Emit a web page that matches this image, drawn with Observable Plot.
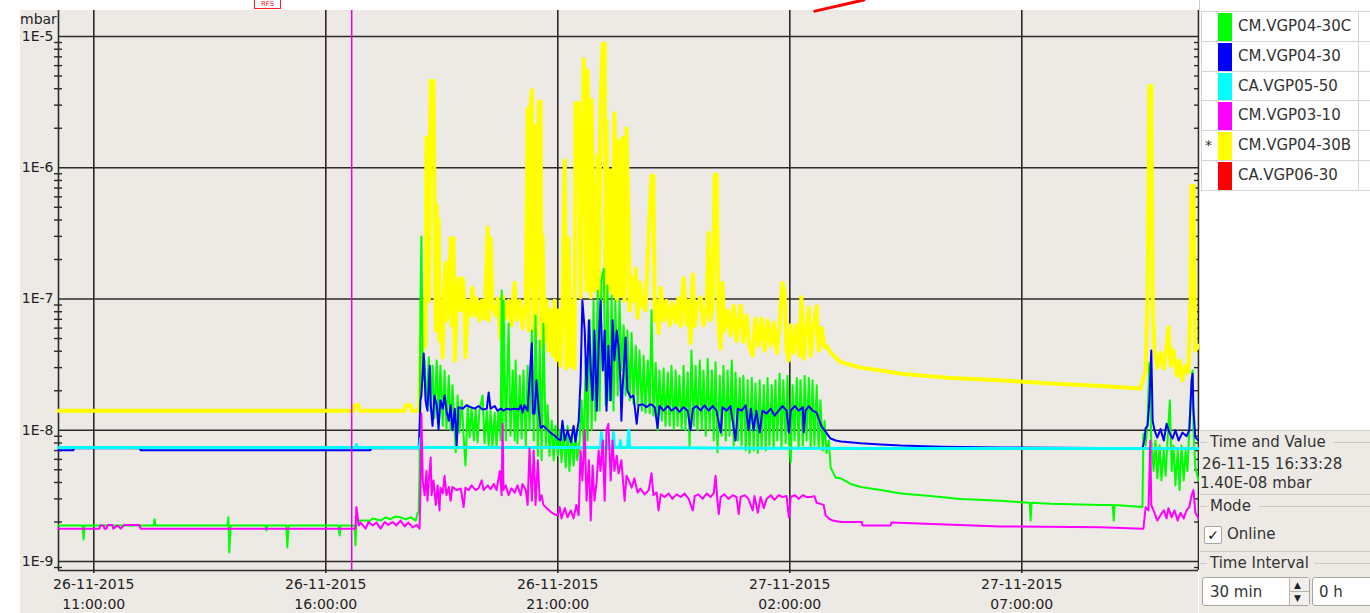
<!DOCTYPE html>
<html><head><meta charset="utf-8">
<script src="https://cdn.jsdelivr.net/npm/d3@7"></script>
<script src="https://cdn.jsdelivr.net/npm/@observablehq/plot@0.6"></script>
<style>
html,body{margin:0;padding:0;background:#fff;width:1370px;height:613px;overflow:hidden;font-family:"DejaVu Sans",sans-serif;color:#2b2b2b;}
#bg{position:absolute;left:20px;top:10px;width:1178px;height:603px;background:#edeae6;}
#chart{position:absolute;left:0;top:0;}
#unit{position:absolute;left:20px;top:11px;font-size:14px;line-height:17px;color:#222;}
#redbox{position:absolute;left:254px;top:0px;width:25px;height:8px;border:1px solid #ff2020;border-top:none;color:#ff2020;font-size:7px;line-height:8px;text-align:center;overflow:hidden;}
#panel{position:absolute;left:1199px;top:0;width:171px;height:613px;background:#edeae6;}
#legend{position:absolute;left:0;top:0;width:171px;height:430px;background:#fff;border-bottom:1px solid #cfcbc5;border-left:1px solid #cfcbc5;}
.row{position:absolute;left:1px;width:170px;border-top:1px solid #d8d5d0;}
.sw{position:absolute;left:17px;width:14px;}
.lab{position:absolute;left:37px;font-size:15px;color:#333;white-space:nowrap;}
.star{position:absolute;left:4px;font-size:14px;color:#333;}
.vl{position:absolute;top:11px;width:1px;height:179px;background:#d8d5d0;}
.txt{position:absolute;font-size:15px;line-height:18px;color:#333;white-space:nowrap;}
.hl{position:absolute;height:1px;background:#cdc9c2;}
.box{position:absolute;background:#fff;border:1px solid #a9a59e;border-radius:3px;box-sizing:border-box;}
</style></head>
<body>
<div id="bg"></div>
<div id="unit">mbar</div>
<div id="redbox">RFS</div>
<div id="chart"></div>
<div id="panel">
  <div id="legend"></div>
</div>
<script>
// ---------- data (time in hours since 26-11-2015 00:00, values in mbar) ----------
const seriesNames = ["CM.VGP04-30C", "CM.VGP04-30", "CA.VGP05-50", "CM.VGP03-10", "CM.VGP04-30B", "CA.VGP06-30"];
const seriesColors = ["#00ff00", "#0000ff", "#00ffff", "#ff00ff", "#ffff00", "#ff0000"];
const selectedSeries = "CM.VGP04-30B";
const xTickHours = [11, 16, 21, 26, 31];
const yTicks = [1e-9, 1e-8, 1e-7, 1e-6, 1e-5];
const yTickLabels = ["1E-9", "1E-8", "1E-7", "1E-6", "1E-5"];
const timeDomainHours = [10.239, 34.808];
const valueDomain = [8.54e-10, 1.578e-5];
const cursorHours = 16 + 33/60 + 28/3600;
const cursorText = ["26-11-15 16:33:28", "1.40E-08 mbar"];

const vgp0430b = [[10.24,1.41e-8],[16.60,1.41e-8],[16.62,1.55e-8],[16.71,1.55e-8],[16.73,1.41e-8],[17.70,1.41e-8],[17.72,1.55e-8],[17.83,1.55e-8],[17.85,1.41e-8],[17.98,1.41e-8],
[18.00,1.41e-8],[18.02,1.84e-8],[18.04,3.4e-8],[18.06,9.7e-8],[18.09,4.05e-8],[18.11,9.7e-8],[18.15,4.4e-8],[18.17,1.7e-6],[18.22,9.7e-8],[18.26,4.6e-6],[18.32,4.6e-6],[18.37,5.75e-8],[18.39,5.2e-7],[18.41,9.7e-8],[18.43,4.0e-7],[18.45,4.8e-8],[18.47,9.7e-8],[18.52,3.6e-8],[18.54,1.06e-7],[18.58,1.9e-7],[18.60,6.9e-8],[18.65,9.7e-8],[18.69,2.9e-7],[18.71,6.3e-8],[18.75,2.9e-7],[18.78,3.4e-8],[18.82,8.9e-8],[18.86,1.44e-7],[18.91,8.2e-8],[18.95,1.44e-7],[18.99,9.7e-8],[19.01,3.6e-8],[19.06,9.7e-8],[19.10,7.5e-8],[19.14,1.01e-7],[19.16,1.22e-7],[19.21,7.5e-8],[19.25,1.01e-7],[19.31,6.9e-8],[19.36,9.7e-8],[19.42,7.1e-8],[19.49,3.5e-7],[19.51,6.9e-8],[19.55,2.9e-7],[19.59,8.9e-8],[19.66,7.5e-8],[19.70,1.01e-7],[19.77,5.0e-8],[19.81,1.06e-7],[19.88,7.1e-8],[19.94,9.7e-8],[20.00,6.3e-8],[20.03,9.7e-8],[20.07,1.33e-7],[20.11,6.9e-8],[20.18,9.7e-8],[20.24,6.0e-8],[20.31,9.7e-8],[20.35,2.8e-6],[20.37,5.75e-8],[20.41,2.8e-6],[20.44,3.9e-6],[20.48,5.75e-8],[20.50,2.1e-6],[20.54,5.3e-8],[20.59,3.2e-6],[20.63,3.2e-6],[20.65,4.4e-8],[20.67,3.0e-7],[20.72,4.8e-8],[20.76,9.7e-8],[20.80,4.05e-8],[20.84,8.2e-8],[20.89,3.7e-8],[20.93,9.7e-8],[20.97,3.4e-8],[21.02,8.2e-8],[21.06,3.1e-8],[21.10,8.2e-8],[21.15,1.14e-6],[21.19,2.95e-8],[21.23,2.9e-7],[21.28,3.1e-8],[21.32,9.7e-8],[21.36,2.95e-8],[21.38,3.1e-6],[21.45,3.1e-6],[21.49,1.03e-7],[21.56,6.7e-6],[21.62,1.16e-7],[21.64,5.5e-6],[21.71,1.03e-7],[21.73,3.3e-6],[21.79,1.16e-7],[21.86,1.24e-6],[21.88,1.06e-7],[21.92,2.9e-6],[21.97,8.8e-6],[22.01,8.8e-6],[22.03,9.7e-8],[22.05,2.3e-6],[22.09,1.16e-7],[22.14,9.5e-7],[22.18,1.06e-7],[22.22,2.6e-6],[22.27,9.7e-8],[22.31,1.6e-6],[22.35,1.06e-7],[22.40,1.7e-6],[22.44,9.7e-8],[22.48,2.0e-6],[22.53,3.5e-7],[22.55,8.2e-8],[22.59,1.46e-7],[22.63,9.7e-8],[22.68,1.7e-7],[22.72,7.2e-8],[22.78,1.33e-7],[22.83,8.9e-8],[22.89,8.2e-8],[22.98,4.5e-7],[23.02,8.7e-7],[23.06,8.7e-7],[23.09,6.9e-8],[23.13,9.7e-8],[23.17,5.5e-8],[23.22,1.22e-7],[23.28,6.9e-8],[23.34,9.7e-8],[23.41,6.3e-8],[23.47,9.4e-8],[23.54,6.6e-8],[23.60,1.01e-7],[23.65,6.2e-8],[23.71,1.44e-7],[23.78,6.4e-8],[23.82,9.7e-8],[23.86,4.6e-8],[23.91,1.54e-7],[23.95,6.2e-8],[24.01,9.1e-8],[24.08,1.03e-7],[24.14,6.3e-8],[24.21,8.6e-8],[24.25,3.2e-7],[24.29,6.9e-8],[24.34,8.9e-8],[24.38,8.9e-7],[24.42,8.9e-7],[24.47,5.75e-8],[24.51,4.2e-8],[24.55,1.33e-7],[24.59,5.75e-8],[24.66,8.2e-8],[24.72,5.3e-8],[24.79,8.9e-8],[24.85,4.8e-8],[24.94,8.9e-8],[25.00,4.7e-8],[25.07,7.5e-8],[25.13,4.4e-8],[25.20,3.7e-8],[25.26,7.1e-8],[25.33,4.4e-8],[25.39,7.1e-8],[25.46,4.05e-8],[25.52,6.9e-8],[25.59,4.4e-8],[25.65,6.6e-8],[25.72,3.9e-8],[25.78,6.3e-8],[25.84,1.33e-7],[25.89,1.12e-7],[25.93,4.05e-8],[25.98,3.4e-8],[26.02,6.3e-8],[26.08,3.9e-8],[26.15,6.3e-8],[26.21,3.7e-8],[26.25,1.03e-7],[26.30,3.5e-8],[26.36,6.0e-8],[26.41,8.6e-8],[26.45,3.7e-8],[26.51,6.0e-8],[26.58,8.8e-8],[26.62,4.05e-8],[26.69,6.0e-8],[26.75,4.3e-8],[26.79,4.4e-8],[26.88,3.9e-8],[27.10,3.3e-8],[27.53,3.0e-8],[27.96,2.85e-8],[28.39,2.7e-8],[29.47,2.5e-8],[30.54,2.4e-8],[31.62,2.27e-8],[32.70,2.17e-8],[33.56,2.08e-8],[33.60,2.4e-8],[33.67,2.75e-8],[33.71,9.7e-8],[33.75,4.2e-6],[33.79,4.2e-6],[33.82,9.7e-8],[33.86,4.05e-8],[33.92,3.0e-8],[33.99,3.9e-8],[34.06,2.95e-8],[34.12,4.4e-8],[34.16,6.1e-8],[34.21,3.1e-8],[34.27,4.05e-8],[34.34,2.6e-8],[34.40,3.4e-8],[34.46,2.4e-8],[34.53,3.1e-8],[34.59,2.75e-8],[34.64,9.7e-8],[34.66,7.3e-7],[34.70,7.3e-7],[34.74,4.05e-8],[34.81,4.4e-8]];

const vgp0430c = [[10.24,1.88e-9],[10.76,1.88e-9],[10.78,1.47e-9],[10.80,1.88e-9],[12.29,1.88e-9],[12.31,2.1e-9],[12.33,1.88e-9],[13.88,1.88e-9],[13.90,2.17e-9],[13.92,1.17e-9],[13.95,1.88e-9],[14.70,1.88e-9],[14.72,1.72e-9],[14.74,1.88e-9],[15.15,1.88e-9],[15.17,1.28e-9],[15.20,1.88e-9],[16.27,1.88e-9],[16.30,1.58e-9],[16.32,1.88e-9],[16.62,1.88e-9],[16.64,1.33e-9],[16.66,2.05e-9],[16.96,2.05e-9],[17.01,2.13e-9],[17.18,2.05e-9],[17.29,2.17e-9],[17.39,2.1e-9],[17.50,2.2e-9],[17.61,2.17e-9],[17.72,2.1e-9],[17.83,2.17e-9],[17.94,2.05e-9],[17.98,2.35e-9],[18.00,2.35e-9],[18.02,4.9e-9],[18.04,9.7e-8],[18.06,3.0e-7],[18.09,2.4e-8],
[18.13,3.4e-8],[18.17,1.5e-8],[18.22,3.6e-8],[18.26,1.41e-8],[18.30,3.1e-8],[18.34,1.23e-8],[18.39,3.4e-8],[18.43,1.18e-8],[18.47,3.1e-8],[18.52,1.08e-8],[18.56,2.85e-8],[18.60,1.02e-8],[18.65,2.6e-8],[18.69,1.0e-8],[18.73,2.2e-8],[18.80,6.8e-9],[18.84,1.84e-8],[18.88,9.6e-9],[18.93,1.69e-8],[18.97,9.1e-9],[19.01,5.4e-9],[19.06,1.55e-8],[19.10,8.8e-9],[19.14,1.5e-8],[19.19,8.35e-9],[19.23,1.46e-8],[19.27,8.1e-9],[19.31,1.41e-8],[19.38,1.84e-8],[19.42,7.95e-9],[19.47,1.41e-8],[19.51,7.65e-9],[19.55,1.41e-8],[19.59,7.5e-9],[19.64,1.36e-8],[19.68,7.4e-9],[19.72,1.41e-8],[19.77,8.35e-9],[19.79,1.16e-7],[19.81,1.0e-8],[19.83,9.7e-8],[19.88,8.35e-9],[19.92,3.4e-8],[19.94,6.5e-8],[19.98,9.1e-9],[20.03,2.85e-8],[20.07,8.35e-9],[20.09,3.4e-8],[20.13,7.95e-9],[20.18,2.6e-8],[20.22,8.65e-9],[20.26,2.85e-8],[20.31,7.65e-9],[20.35,3.1e-8],[20.39,1.0e-8],[20.44,5.75e-8],[20.48,8.35e-9],[20.52,7.5e-8],[20.57,6.4e-9],[20.61,4.8e-8],[20.65,5.9e-9],[20.69,6.5e-8],[20.74,7.65e-9],[20.78,1.55e-8],[20.82,6.4e-9],[20.87,1.18e-8],[20.91,5.9e-9],[20.95,1.08e-8],[21.00,6.4e-9],[21.04,1.0e-8],[21.08,5.7e-9],[21.12,1.0e-8],[21.17,5.2e-9],[21.21,1.08e-8],[21.25,4.9e-9],[21.30,9.1e-9],[21.34,5.4e-9],[21.38,1.0e-8],[21.42,5.9e-9],[21.47,8.35e-9],[21.51,1.69e-8],[21.56,7.0e-9],[21.60,3.4e-8],[21.64,8.35e-9],[21.69,6.9e-8],[21.73,1.0e-8],[21.77,9.7e-8],[21.81,1.18e-8],[21.86,1.16e-7],[21.90,1.41e-8],[21.94,1.38e-7],[21.99,1.7e-7],[22.03,1.55e-8],[22.07,1.27e-7],[22.11,1.69e-8],[22.16,1.06e-7],[22.20,1.41e-8],[22.24,9.7e-8],[22.29,1.84e-8],[22.33,9.7e-8],[22.37,2.85e-8],[22.42,6.3e-8],[22.46,1.84e-8],[22.50,5.75e-8],[22.55,1.69e-8],[22.59,5.5e-8],[22.63,1.6e-8],[22.68,4.4e-8],[22.72,1.55e-8],[22.76,4.05e-8],[22.81,1.41e-8],[22.85,3.7e-8],[22.89,1.36e-8],[22.94,3.4e-8],[22.98,1.34e-8],[23.02,8.2e-8],[23.06,1.29e-8],[23.11,3.25e-8],[23.15,1.0e-8],[23.19,2.85e-8],[23.24,1.18e-8],[23.28,2.95e-8],[23.32,1.08e-8],[23.37,2.75e-8],[23.41,1.08e-8],[23.45,3.1e-8],[23.50,1.02e-8],[23.54,2.85e-8],[23.58,1.08e-8],[23.62,2.6e-8],[23.67,1.02e-8],[23.71,3.1e-8],[23.75,1.0e-8],[23.80,2.75e-8],[23.84,7.4e-9],[23.88,4.05e-8],[23.93,1.08e-8],[23.97,3.1e-8],[24.01,1.0e-8],[24.06,3.4e-8],[24.10,1.02e-8],[24.14,2.85e-8],[24.19,9.1e-9],[24.23,3.5e-8],[24.27,1.0e-8],[24.32,2.85e-8],[24.36,8.35e-9],[24.40,3.3e-8],[24.44,6.8e-9],[24.49,2.6e-8],[24.53,9.1e-9],[24.57,3.1e-8],[24.62,8.35e-9],[24.66,2.85e-8],[24.70,9.1e-9],[24.75,3.4e-8],[24.79,7.65e-9],[24.83,2.75e-8],[24.88,8.35e-9],[24.92,2.5e-8],[24.96,7.65e-9],[25.00,2.6e-8],[25.05,7.0e-9],[25.09,2.4e-8],[25.13,6.7e-9],[25.18,2.5e-8],[25.22,7.0e-9],[25.26,2.27e-8],[25.31,6.7e-9],[25.35,2.4e-8],[25.39,7.25e-9],[25.44,2.2e-8],[25.48,7.0e-9],[25.52,2.5e-8],[25.56,7.65e-9],[25.61,2.2e-8],[25.65,7.25e-9],[25.69,2.4e-8],[25.73,8.35e-9],[25.78,2.7e-8],[25.82,7.4e-9],[25.86,2.4e-8],[25.91,7.95e-9],[25.95,2.6e-8],[25.99,7.65e-9],[26.02,5.7e-9],[26.06,2.2e-8],[26.10,8.35e-9],[26.15,2.5e-8],[26.19,7.25e-9],[26.23,2.4e-8],[26.28,7.65e-9],[26.32,2.6e-8],[26.36,8.35e-9],[26.41,2.5e-8],[26.45,7.4e-9],[26.49,2.4e-8],[26.53,7.65e-9],[26.58,2.2e-8],[26.62,7.25e-9],[26.66,1.69e-8],[26.71,7.0e-9],[26.75,1.18e-8],[26.79,6.7e-9],[26.84,8.35e-9],[26.88,5.2e-9],[26.99,4.35e-9],[27.10,4.3e-9],[27.31,3.9e-9],[27.53,3.7e-9],[27.96,3.5e-9],[28.39,3.3e-9],[29.03,3.15e-9],[29.68,3.0e-9],[30.54,2.9e-9],[31.17,2.8e-9],[31.19,2.05e-9],[31.21,2.8e-9],[31.62,2.75e-9],[32.70,2.7e-9],[32.96,2.7e-9],[32.98,2.05e-9],[33.00,2.7e-9],[33.60,2.6e-9],[33.62,9.4e-9],[33.67,7.65e-9],[33.71,1.18e-8],[33.75,3.25e-8],[33.79,8.35e-9],[33.84,4.9e-9],[33.88,8.35e-9],[33.92,4.3e-9],[33.97,7.65e-9],[34.01,4.15e-9],[34.06,7.0e-9],[34.10,4.5e-9],[34.14,8.35e-9],[34.19,1.69e-8],[34.23,4.9e-9],[34.27,7.65e-9],[34.31,3.8e-9],[34.36,7.0e-9],[34.40,3.5e-9],[34.44,7.65e-9],[34.49,4.15e-9],[34.53,7.0e-9],[34.57,4.9e-9],[34.61,1.0e-8],[34.66,2.4e-8],[34.68,2.85e-8],[34.70,1.0e-8],[34.74,5.2e-9],[34.81,4.15e-9]];

const vgp0430 = [[10.24,7.05e-9],[10.56,7.05e-9],[10.58,7.3e-9],[11.98,7.3e-9],[12.01,7.05e-9],[16.96,7.05e-9],[16.98,7.3e-9],[18.00,7.3e-9],[18.02,1.0e-8],[18.04,1.69e-8],[18.06,1.84e-8],[18.11,3.85e-8],[18.15,1.69e-8],[18.19,1.41e-8],[18.24,3.1e-8],[18.26,1.6e-8],[18.30,1.08e-8],[18.34,1.84e-8],[18.39,1.55e-8],[18.43,1.02e-8],[18.47,1.69e-8],[18.52,1.46e-8],[18.56,1.84e-8],[18.60,1.41e-8],[18.65,1.18e-8],[18.69,1.55e-8],[18.73,1.0e-8],[18.78,1.46e-8],[18.82,7.65e-9],[18.86,1.5e-8],[18.95,1.46e-8],[19.03,1.55e-8],[19.12,1.5e-8],[19.21,1.46e-8],[19.29,1.53e-8],[19.38,1.44e-8],[19.47,1.46e-8],[19.51,1.94e-8],[19.55,1.46e-8],[19.64,1.53e-8],[19.70,1.41e-8],[19.77,1.46e-8],[19.83,1.41e-8],[19.90,1.46e-8],[19.98,1.44e-8],[20.07,1.46e-8],[20.16,1.44e-8],[20.20,1.55e-8],[20.24,1.36e-8],[20.28,1.55e-8],[20.35,1.41e-8],[20.39,2.4e-8],[20.44,4.6e-8],[20.46,1.34e-8],[20.50,1.34e-8],[20.54,2.4e-8],[20.59,1.41e-8],[20.63,1.04e-8],[20.69,1.08e-8],[20.76,1.02e-8],[20.84,9.6e-9],[20.93,9.1e-9],[21.00,8.65e-9],[21.06,8.35e-9],[21.10,1.18e-8],[21.15,8.35e-9],[21.21,1.0e-8],[21.28,8.1e-9],[21.34,1.08e-8],[21.38,8.2e-9],[21.45,1.18e-8],[21.49,2.4e-8],[21.53,9.7e-8],[21.58,5.75e-8],[21.62,2.0e-8],[21.67,6.9e-8],[21.71,2.85e-8],[21.75,1.69e-8],[21.79,5.75e-8],[21.84,1.41e-8],[21.88,4.4e-8],[21.92,9.7e-8],[21.97,2.85e-8],[22.01,5.75e-8],[22.05,1.41e-8],[22.09,4.4e-8],[22.14,1.69e-8],[22.18,6.9e-8],[22.22,3.4e-8],[22.27,5.75e-8],[22.31,4.3e-8],[22.35,2.4e-8],[22.37,1.18e-8],[22.40,2.2e-8],[22.46,5.1e-8],[22.50,2.0e-8],[22.57,1.78e-8],[22.63,1.84e-8],[22.70,1.12e-8],[22.74,1.55e-8],[22.83,1.58e-8],[22.91,1.5e-8],[23.00,1.58e-8],[23.09,1.5e-8],[23.15,1.04e-8],[23.19,1.53e-8],[23.28,1.41e-8],[23.37,1.53e-8],[23.45,1.41e-8],[23.54,1.5e-8],[23.62,1.38e-8],[23.71,1.5e-8],[23.80,1.41e-8],[23.86,1.0e-8],[23.91,1.46e-8],[23.99,1.53e-8],[24.08,1.41e-8],[24.16,1.55e-8],[24.25,1.41e-8],[24.34,1.53e-8],[24.42,1.41e-8],[24.51,9.6e-9],[24.55,1.5e-8],[24.64,1.41e-8],[24.72,1.53e-8],[24.83,8.35e-9],[24.88,1.46e-8],[24.96,1.41e-8],[25.05,1.55e-8],[25.11,1.0e-8],[25.16,1.46e-8],[25.22,1.0e-8],[25.28,1.41e-8],[25.35,9.6e-9],[25.41,1.41e-8],[25.50,1.34e-8],[25.59,1.46e-8],[25.67,1.29e-8],[25.76,1.41e-8],[25.84,1.53e-8],[25.93,1.41e-8],[25.98,9.6e-9],[26.02,1.41e-8],[26.11,1.53e-8],[26.19,1.41e-8],[26.28,1.5e-8],[26.30,9.6e-9],[26.34,1.41e-8],[26.41,1.53e-8],[26.49,1.41e-8],[26.58,1.36e-8],[26.62,1.23e-8],[26.69,1.06e-8],[26.75,1.0e-8],[26.81,9.3e-9],[26.88,8.65e-9],[26.99,8.35e-9],[27.10,8.2e-9],[27.53,7.95e-9],[27.96,7.8e-9],[28.39,7.65e-9],[29.25,7.5e-9],[30.54,7.4e-9],[33.60,7.3e-9],[33.64,8.35e-9],[33.67,1.04e-8],[33.71,1.08e-8],[33.75,1.69e-8],[33.79,4.05e-8],[33.82,1.18e-8],[33.86,1.0e-8],[33.92,8.8e-9],[33.99,1.02e-8],[34.06,8.35e-9],[34.12,1.12e-8],[34.19,9.4e-9],[34.25,8.65e-9],[34.31,1.0e-8],[34.38,8.35e-9],[34.46,9.6e-9],[34.55,9.0e-9],[34.61,1.0e-8],[34.66,2.4e-8],[34.68,2.7e-8],[34.70,1.41e-8],[34.74,8.8e-9],[34.81,8.35e-9]];

const vgp0550 = [[10.24,7.4e-9],[16.64,7.4e-9],[16.66,7.8e-9],[16.68,7.4e-9],[18.02,7.4e-9],[18.04,8.65e-9],[18.06,7.4e-9],[21.92,7.4e-9],[21.94,9.6e-9],[21.97,7.4e-9],[22.07,7.4e-9],[22.09,8.35e-9],[22.11,7.4e-9],[22.18,7.4e-9],[22.20,9.6e-9],[22.22,7.4e-9],[22.33,7.4e-9],[22.35,8.35e-9],[22.37,7.4e-9],[22.50,7.4e-9],[22.53,1.0e-8],[22.55,7.4e-9],[25.37,7.3e-9],[28.39,7.25e-9],[34.81,7.25e-9]];

const vgp0310 = [[10.24,1.78e-9],[11.12,1.78e-9],[11.14,1.88e-9],[11.21,1.88e-9],[11.23,1.78e-9],[11.27,1.78e-9],[11.30,1.9e-9],[11.40,1.9e-9],[11.42,1.78e-9],[11.51,1.88e-9],[11.58,1.78e-9],[11.66,1.9e-9],[11.98,1.9e-9],[12.01,1.78e-9],[16.64,1.78e-9],[16.66,2.6e-9],[16.71,1.88e-9],[16.75,1.98e-9],[16.86,1.78e-9],[16.92,2.0e-9],[17.01,1.88e-9],[17.09,1.98e-9],[17.18,1.78e-9],[17.27,2.0e-9],[17.35,1.9e-9],[17.44,2.0e-9],[17.52,1.88e-9],[17.61,2.05e-9],[17.70,1.85e-9],[17.78,1.98e-9],[17.87,1.82e-9],[17.96,1.9e-9],[18.02,1.78e-9],[18.04,3.5e-9],[18.06,1.34e-8],[18.09,4.15e-9],[18.13,3.2e-9],[18.17,4.9e-9],[18.19,2.9e-9],[18.22,4.15e-9],[18.26,6.2e-9],[18.28,3.2e-9],[18.32,4.15e-9],[18.37,2.7e-9],[18.41,3.8e-9],[18.45,2.45e-9],[18.47,3.65e-9],[18.52,3.3e-9],[18.56,4.5e-9],[18.60,3.2e-9],[18.65,3.7e-9],[18.69,2.9e-9],[18.73,3.7e-9],[18.82,3.5e-9],[18.91,3.6e-9],[18.97,2.6e-9],[19.01,3.65e-9],[19.08,3.5e-9],[19.14,3.8e-9],[19.23,3.5e-9],[19.29,3.6e-9],[19.36,4.15e-9],[19.40,3.5e-9],[19.49,3.8e-9],[19.55,3.55e-9],[19.62,3.9e-9],[19.68,3.5e-9],[19.75,4.9e-9],[19.79,3.2e-9],[19.81,1.12e-8],[19.83,3.5e-9],[19.88,3.8e-9],[19.94,3.2e-9],[20.00,3.6e-9],[20.07,3.35e-9],[20.13,3.8e-9],[20.20,3.2e-9],[20.24,3.9e-9],[20.31,3.5e-9],[20.35,2.7e-9],[20.39,7.25e-9],[20.44,2.9e-9],[20.48,7.0e-9],[20.52,2.7e-9],[20.57,5.9e-9],[20.61,2.9e-9],[20.65,3.2e-9],[20.69,2.7e-9],[20.76,2.55e-9],[20.84,2.4e-9],[20.93,2.28e-9],[21.00,2.25e-9],[21.04,2.6e-9],[21.08,2.13e-9],[21.15,2.55e-9],[21.21,2.17e-9],[21.28,2.45e-9],[21.34,2.13e-9],[21.40,2.7e-9],[21.45,2.25e-9],[21.49,7.0e-9],[21.53,4.15e-9],[21.58,1.0e-8],[21.62,2.9e-9],[21.67,5.9e-9],[21.71,2.05e-9],[21.75,5.4e-9],[21.79,2.9e-9],[21.84,4.15e-9],[21.88,7.0e-9],[21.92,4.9e-9],[21.97,8.35e-9],[22.01,2.9e-9],[22.05,1.0e-8],[22.09,1.12e-8],[22.14,4.15e-9],[22.18,8.35e-9],[22.22,4.9e-9],[22.27,6.4e-9],[22.31,4.7e-9],[22.37,5.9e-9],[22.44,2.9e-9],[22.48,4.5e-9],[22.53,4.15e-9],[22.59,3.65e-9],[22.65,4.3e-9],[22.72,3.35e-9],[22.78,3.6e-9],[22.87,3.25e-9],[22.96,3.5e-9],[23.02,4.7e-9],[23.06,3.2e-9],[23.13,3.35e-9],[23.17,2.45e-9],[23.22,3.25e-9],[23.30,3.1e-9],[23.39,3.3e-9],[23.47,3.0e-9],[23.56,3.25e-9],[23.65,3.1e-9],[23.73,3.3e-9],[23.82,3.0e-9],[23.91,2.45e-9],[23.95,3.15e-9],[24.03,3.25e-9],[24.12,3.0e-9],[24.21,3.3e-9],[24.29,3.1e-9],[24.36,3.3e-9],[24.40,4.5e-9],[24.44,2.9e-9],[24.47,2.3e-9],[24.51,3.1e-9],[24.59,3.25e-9],[24.68,3.0e-9],[24.77,3.2e-9],[24.85,3.1e-9],[24.90,2.3e-9],[24.94,3.1e-9],[25.03,3.2e-9],[25.11,3.0e-9],[25.20,2.45e-9],[25.24,3.15e-9],[25.31,2.35e-9],[25.37,3.1e-9],[25.44,2.55e-9],[25.50,3.0e-9],[25.59,3.2e-9],[25.67,2.95e-9],[25.76,3.2e-9],[25.84,3.1e-9],[25.93,3.15e-9],[25.98,2.17e-9],[26.02,3.1e-9],[26.11,3.2e-9],[26.19,3.0e-9],[26.28,3.2e-9],[26.36,3.1e-9],[26.45,3.1e-9],[26.53,3.15e-9],[26.58,2.8e-9],[26.66,2.75e-9],[26.73,2.7e-9],[26.77,2.25e-9],[26.84,2.13e-9],[26.92,2.05e-9],[27.10,2.0e-9],[27.55,2.0e-9],[27.57,1.88e-9],[28.17,1.88e-9],[28.19,1.98e-9],[30.54,1.85e-9],[32.70,1.82e-9],[33.60,1.78e-9],[33.62,1.78e-9],[33.67,2.6e-9],[33.73,2.45e-9],[33.77,8.35e-9],[33.79,2.7e-9],[33.86,2.35e-9],[33.92,2.05e-9],[33.99,2.25e-9],[34.06,2.45e-9],[34.12,2.13e-9],[34.16,2.55e-9],[34.23,2.17e-9],[34.29,2.45e-9],[34.36,2.05e-9],[34.42,2.35e-9],[34.49,2.13e-9],[34.55,2.45e-9],[34.61,2.6e-9],[34.66,3.2e-9],[34.70,3.5e-9],[34.74,2.35e-9],[34.81,2.13e-9]];

const vgp0630 = [[26.54,1.56e-5],[27.60,1.9e-5]];

// ---------- build ----------
const T0 = Date.UTC(2015, 10, 26);
const toDate = h => new Date(T0 + h * 3600000);
const xDomain = timeDomainHours.map(toDate);
const xTicks = xTickHours.map(toDate);
const fmtDate = d3.utcFormat("%d-%m-%Y"), fmtTime = d3.utcFormat("%H:%M:%S");
const minorTicks = [1e-10, ...yTicks].flatMap(d => [2,3,4,5,6,7,8,9].map(k => d * k))
  .filter(v => v > valueDomain[0] && v < valueDomain[1] && !yTicks.includes(v));

const drawOrder = [
  {data: vgp0430b, name: "CM.VGP04-30B", width: 4},
  {data: vgp0430c, name: "CM.VGP04-30C", width: 2},
  {data: vgp0430,  name: "CM.VGP04-30",  width: 2},
  {data: vgp0550,  name: "CA.VGP05-50",  width: 3},
  {data: vgp0310,  name: "CM.VGP03-10",  width: 2},
  {data: vgp0630,  name: "CA.VGP06-30",  width: 3}
];
const colorOf = n => seriesColors[seriesNames.indexOf(n)];
const gridColor = "#2a2a2a";

const chart = Plot.plot({
  width: 1198, height: 613,
  marginLeft: 58, marginRight: 0, marginTop: 10, marginBottom: 43,
  x: {type: "utc", domain: xDomain, label: null},
  y: {type: "log", domain: valueDomain, label: null},
  style: {background: "transparent", fontFamily: "DejaVu Sans", fontSize: "14px", color: "#222", overflow: "visible"},
  marks: [
    Plot.ruleY(yTicks, {stroke: gridColor, strokeWidth: 1.6}),
    Plot.ruleX(xTicks, {stroke: gridColor, strokeWidth: 1.6}),
    Plot.ruleX([xDomain[0], xDomain[1]], {stroke: gridColor, strokeWidth: 1.6}),
    Plot.ruleY([valueDomain[0]], {stroke: gridColor, strokeWidth: 1.6}),
    Plot.ruleY(minorTicks, {x1: () => xDomain[0], x2: () => xDomain[0], insetLeft: -4, insetRight: -4, stroke: gridColor, strokeWidth: 1.4}),
    Plot.ruleY(minorTicks, {x1: () => xDomain[1], x2: () => xDomain[1], insetLeft: -4, insetRight: 0, stroke: gridColor, strokeWidth: 1.4}),
    Plot.axisY(yTicks, {anchor: "left", tickSize: 0, tickPadding: 5, fontSize: 14, fill: "#222",
      tickFormat: d => yTickLabels[yTicks.indexOf(d)], label: null}),
    Plot.axisX(xTicks, {anchor: "bottom", tickSize: 3, tickPadding: 2, fontSize: 14, lineHeight: 1.38, fill: "#222", stroke: gridColor, strokeWidth: 1.6,
      tickFormat: d => fmtDate(d) + "\n" + fmtTime(d), label: null}),
    ...drawOrder.map(s => Plot.line(s.data, {x: d => toDate(d[0]), y: d => d[1], stroke: colorOf(s.name), strokeWidth: s.width, strokeLinejoin: "round"})),
    Plot.ruleX([toDate(cursorHours)], {stroke: "#e800e8", strokeWidth: 1.5})
  ]
});
document.getElementById("chart").appendChild(chart);

// ---------- legend / side panel ----------
const legend = document.getElementById("legend");
const rowH = 29.75, rowTop = 11;
seriesNames.forEach((name, i) => {
  const row = document.createElement("div");
  row.className = "row";
  row.style.top = (rowTop + i * rowH) + "px";
  row.style.height = rowH + "px";
  const sw = document.createElement("div");
  sw.className = "sw"; sw.style.top = "1px"; sw.style.height = (rowH - 2) + "px";
  sw.style.background = seriesColors[i];
  row.appendChild(sw);
  const lab = document.createElement("div");
  lab.className = "lab"; lab.textContent = name;
  lab.style.top = "0px"; lab.style.lineHeight = rowH + "px";
  row.appendChild(lab);
  if (name === selectedSeries) {
    const st = document.createElement("div");
    st.className = "star"; st.textContent = "*";
    st.style.top = "0px"; st.style.lineHeight = rowH + "px";
    row.appendChild(st);
  }
  legend.appendChild(row);
});
const endRow = document.createElement("div");
endRow.className = "row"; endRow.style.top = (rowTop + seriesNames.length * rowH) + "px"; endRow.style.height = "0px";
legend.appendChild(endRow);
[{l: 1}, {l: 158}].forEach(v => {
  const d = document.createElement("div"); d.className = "vl"; d.style.left = v.l + "px"; legend.appendChild(d);
});

const panel = document.getElementById("panel");
function add(html) { panel.insertAdjacentHTML("beforeend", html); }
add('<div class="hl" style="left:1px;top:442px;width:7px"></div>');
add('<div class="txt" style="left:11px;top:433px">Time and Value</div>');
add('<div class="hl" style="left:134px;top:442px;width:37px"></div>');
add('<div class="txt" style="left:3px;top:455px">' + cursorText[0] + '</div>');
add('<div class="txt" style="left:1px;top:474px">' + cursorText[1] + '</div>');
add('<div class="hl" style="left:1px;top:494px;width:170px"></div>');
add('<div class="hl" style="left:1px;top:506px;width:7px"></div>');
add('<div class="txt" style="left:11px;top:497px">Mode</div>');
add('<div class="hl" style="left:60px;top:506px;width:111px"></div>');
add('<div class="box" style="left:5px;top:526px;width:18px;height:18px;border-radius:2px;font-size:14px;line-height:16px;text-align:center;color:#111">✓</div>');
add('<div class="txt" style="left:28px;top:525px">Online</div>');
add('<div class="hl" style="left:1px;top:551px;width:170px"></div>');
add('<div class="hl" style="left:1px;top:563px;width:7px"></div>');
add('<div class="txt" style="left:11px;top:554px">Time Interval</div>');
add('<div class="hl" style="left:115px;top:563px;width:56px"></div>');
add('<div class="box" style="left:3px;top:577px;width:108px;height:29px"></div>');
add('<div class="txt" style="left:11px;top:583px">30 min</div>');
add('<div style="position:absolute;left:90px;top:578px;width:1px;height:27px;background:#b8b4ad"></div>');
add('<div style="position:absolute;left:91px;top:578px;width:19px;height:27px;background:#f2f0ec"></div>');
add('<div style="position:absolute;left:91px;top:591px;width:19px;height:1px;background:#b8b4ad"></div>');
add('<div style="position:absolute;left:95px;top:580px;font-size:9px;line-height:10px;color:#222">▲</div>');
add('<div style="position:absolute;left:95px;top:593px;font-size:9px;line-height:10px;color:#222">▼</div>');
add('<div class="box" style="left:113px;top:577px;width:62px;height:29px"></div>');
add('<div class="txt" style="left:120px;top:583px">0 h</div>');
</script>
</body></html>
